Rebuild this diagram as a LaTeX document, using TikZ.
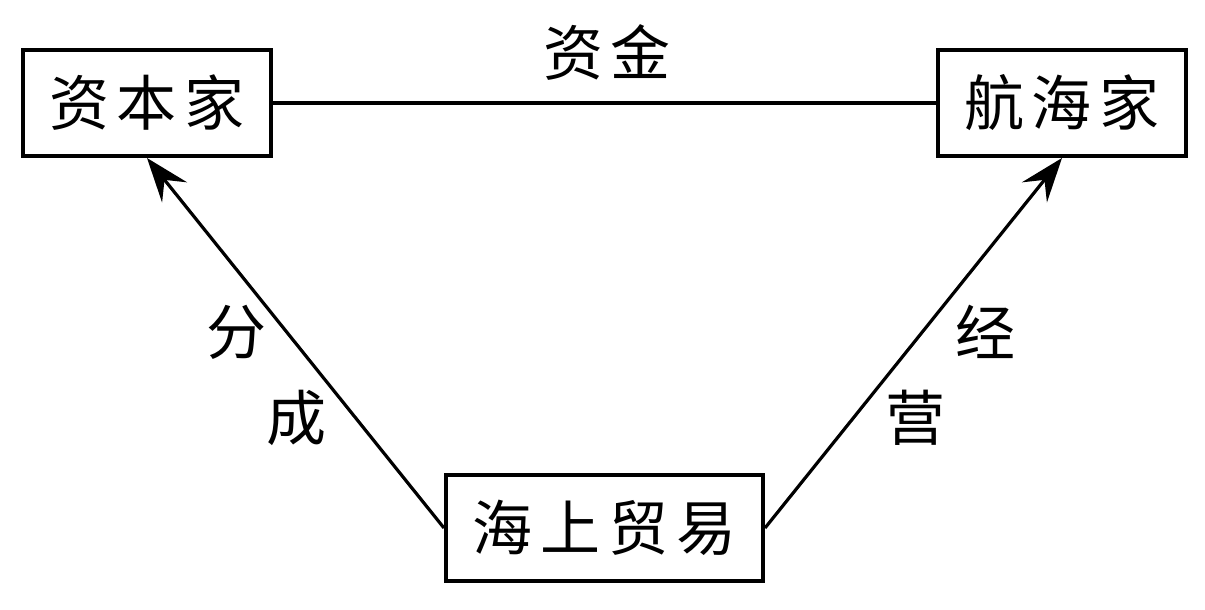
\documentclass[tikz,border=0pt]{standalone}
\usepackage{fontspec}
\newfontfamily\cjk{Noto Sans CJK SC}
\usetikzlibrary{arrows.meta}
\newcommand\zg{\hspace{4pt}}

\begin{document}
\begin{tikzpicture}
		[x=0.5pt,y=-0.5pt,
		box/.style={draw,line width=2pt,minimum height=53pt,inner sep=0pt,font=\cjk\fontsize{30}{30}\selectfont},
		lbl/.style={inner sep=0pt,font=\cjk\fontsize{30}{30}\selectfont},
		link/.style={line width=1.8pt},
		arr/.style={line width=1.6pt,-{Stealth[length=22pt,width=16pt,inset=8pt]}}]
		\useasboundingbox (0,0) rectangle (1205,610);

		\node[box,minimum width=124pt] (cap) at (147,103) {资\zg 本\zg 家};
		\node[box,minimum width=124pt] (nav) at (1062,103) {航\zg 海\zg 家};
		\node[box,minimum width=158.5pt] (trade) at (604.5,528) {海\zg 上\zg 贸\zg 易};

		\draw[link] (cap) -- (nav);
		\draw[arr] (trade.west) -- (cap.south);
		\draw[arr] (trade.east) -- (nav.south);

		\node[lbl] (fund) at (607,52) {资\zg 金};
		\node[lbl] (sha1) at (236,332) {分};
		\node[lbl] (sha2) at (296,418) {成};
		\node[lbl] (run1) at (985,332) {经};
		\node[lbl] (run2) at (915,418) {营};

	\end{tikzpicture}
\end{document}
